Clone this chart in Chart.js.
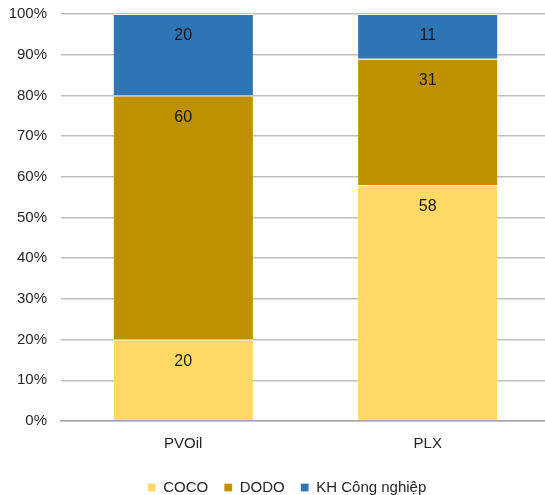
<!DOCTYPE html>
<html>
<head>
<meta charset="utf-8">
<script src="https://cdn.jsdelivr.net/npm/chart.js@4"></script>
<style>
  html, body { margin: 0; padding: 0; background: #fff; overflow: hidden; }
  canvas { display: block; }
</style>
</head>
<body>
<canvas id="chart" width="550" height="495"></canvas>
<script>
const categories = ["PVOil", "PLX"];
const cocoValues = [20, 58];
const dodoValues = [60, 31];
const khValues = [20, 11];
const seriesNames = ["COCO", "DODO", "KH Công nghiệp"];

// labels sit near the top of each segment, like Excel "inside end"
const valueLabels = {
  id: "valueLabels",
  afterDatasetsDraw(chart) {
    const ctx = chart.ctx;
    ctx.save();
    ctx.font = "16px 'Liberation Sans', Arial, sans-serif";
    ctx.fillStyle = "#1a1a1a";
    ctx.textAlign = "center";
    ctx.textBaseline = "middle";
    chart.data.datasets.forEach((ds, i) => {
      const meta = chart.getDatasetMeta(i);
      meta.data.forEach((bar, j) => {
        const top = Math.min(bar.y, bar.base);
        ctx.fillText(String(ds.data[j]), bar.x, top + 22);
      });
    });
    ctx.restore();
  },
};

// excel centres the legend a bit to the right of the canvas middle
const legendShift = {
  id: "legendShift",
  afterLayout(chart) {
    chart.legend.left += 12;
    chart.legend.right += 12;
  },
};

const font = { family: "'Liberation Sans', Arial, sans-serif", size: 15 };

new Chart(document.getElementById("chart").getContext("2d"), {
  type: "bar",
  data: {
    labels: categories,
    datasets: [
      { label: seriesNames[0], data: cocoValues, backgroundColor: "#FFD966" },
      { label: seriesNames[1], data: dodoValues, backgroundColor: "#BF9000" },
      { label: seriesNames[2], data: khValues, backgroundColor: "#2E75B6" },
    ],
  },
  options: {
    responsive: false,
    animation: false,
    layout: { padding: { top: 14, left: 0, right: 0, bottom: -10 } },
    datasets: {
      bar: {
        categoryPercentage: 1,
        barPercentage: 0.57,
        borderColor: "#ffffff",
        borderWidth: { top: 1, left: 0, right: 0, bottom: 0 },
        borderSkipped: false,
      },
    },
    scales: {
      x: {
        stacked: true,
        grid: { display: false, drawTicks: false },
        border: { display: true, color: "#a6a6a6", width: 1.5 },
        ticks: { font: font, color: "#262626", padding: 14 },
        afterFit: (scale) => { scale.height = 43; },
      },
      y: {
        stacked: true,
        min: 0,
        max: 100,
        grid: { color: "#bfbfbf", lineWidth: 1.5, drawTicks: false },
        border: { display: false },
        ticks: {
          stepSize: 10,
          font: font,
          color: "#262626",
          padding: 14,
          callback: (v) => v + "%",
        },
        afterFit: (scale) => {
          scale.width = 61;
          scale.paddingTop = 0;
          scale.paddingBottom = 0;
        },
      },
    },
    plugins: {
      legend: {
        position: "bottom",
        labels: {
          font: font,
          color: "#262626",
          boxWidth: 8,
          boxHeight: 8,
          padding: 16,
        },
      },
      tooltip: { enabled: false },
    },
  },
  plugins: [valueLabels, legendShift],
});
</script>
</body>
</html>
